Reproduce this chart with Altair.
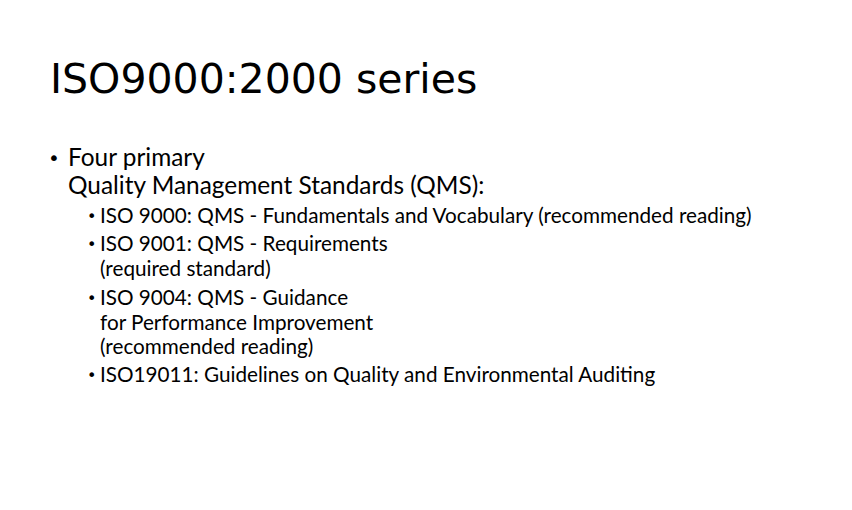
import altair as alt
import pandas as pd

title = "ISO9000:2000 series"

lines = [
    "Four primary",
    "Quality Management Standards (QMS):",
    "ISO 9000: QMS - Fundamentals and Vocabulary (recommended reading)",
    "ISO 9001: QMS - Requirements",
    "(required standard)",
    "ISO 9004: QMS - Guidance",
    "for Performance Improvement",
    "(recommended reading)",
    "ISO19011: Guidelines on Quality and Environmental Auditing",
]
levels = [1, 1, 2, 2, 2, 2, 2, 2, 2]
has_bullet = [True, False, True, True, False, True, False, False, True]
rows = [159, 187, 217, 245, 270, 299, 324, 348, 376]

indent = {1: 68, 2: 100}
bullet_x = {1: 48, 2: 87}
size = {1: 24.4, 2: 20.7}
bullet_size = {1: 20, 2: 16}

df = pd.DataFrame({
    "text": lines,
    "level": levels,
    "y": rows,
})
df["x"] = df["level"].map(indent)
df["size"] = df["level"].map(size)

bul = df[has_bullet].copy()
bul["x"] = bul["level"].map(bullet_x)
bul["size"] = bul["level"].map(bullet_size)
bul["text"] = "•"

xs = alt.Scale(domain=[8, 844])
ys = alt.Scale(domain=[8, 502], reverse=True)

body = alt.Chart(df).mark_text(align="left", baseline="middle", font="Lato", color="#000").encode(
    x=alt.X("x:Q", scale=xs, axis=None),
    y=alt.Y("y:Q", scale=ys, axis=None),
    text="text:N",
    size=alt.Size("size:Q", scale=None, legend=None),
)

bullets = alt.Chart(bul).mark_text(align="left", baseline="middle", font="DejaVu Sans", color="#000").encode(
    x=alt.X("x:Q", scale=xs, axis=None),
    y=alt.Y("y:Q", scale=ys, axis=None),
    text="text:N",
    size=alt.Size("size:Q", scale=None, legend=None),
)

head = alt.Chart(pd.DataFrame({"t": [title], "x": [50], "y": [81]})).mark_text(
    align="left", baseline="middle", font="DejaVu Sans", fontSize=41, color="#000"
).encode(
    x=alt.X("x:Q", scale=xs, axis=None),
    y=alt.Y("y:Q", scale=ys, axis=None),
    text="t:N",
)

chart = (
    alt.layer(head, body, bullets)
    .properties(width=836, height=494, padding=0, autosize="none")
    .configure_view(stroke=None)
)

chart.save("out.html", embed_options={"renderer": "svg", "actions": False})
